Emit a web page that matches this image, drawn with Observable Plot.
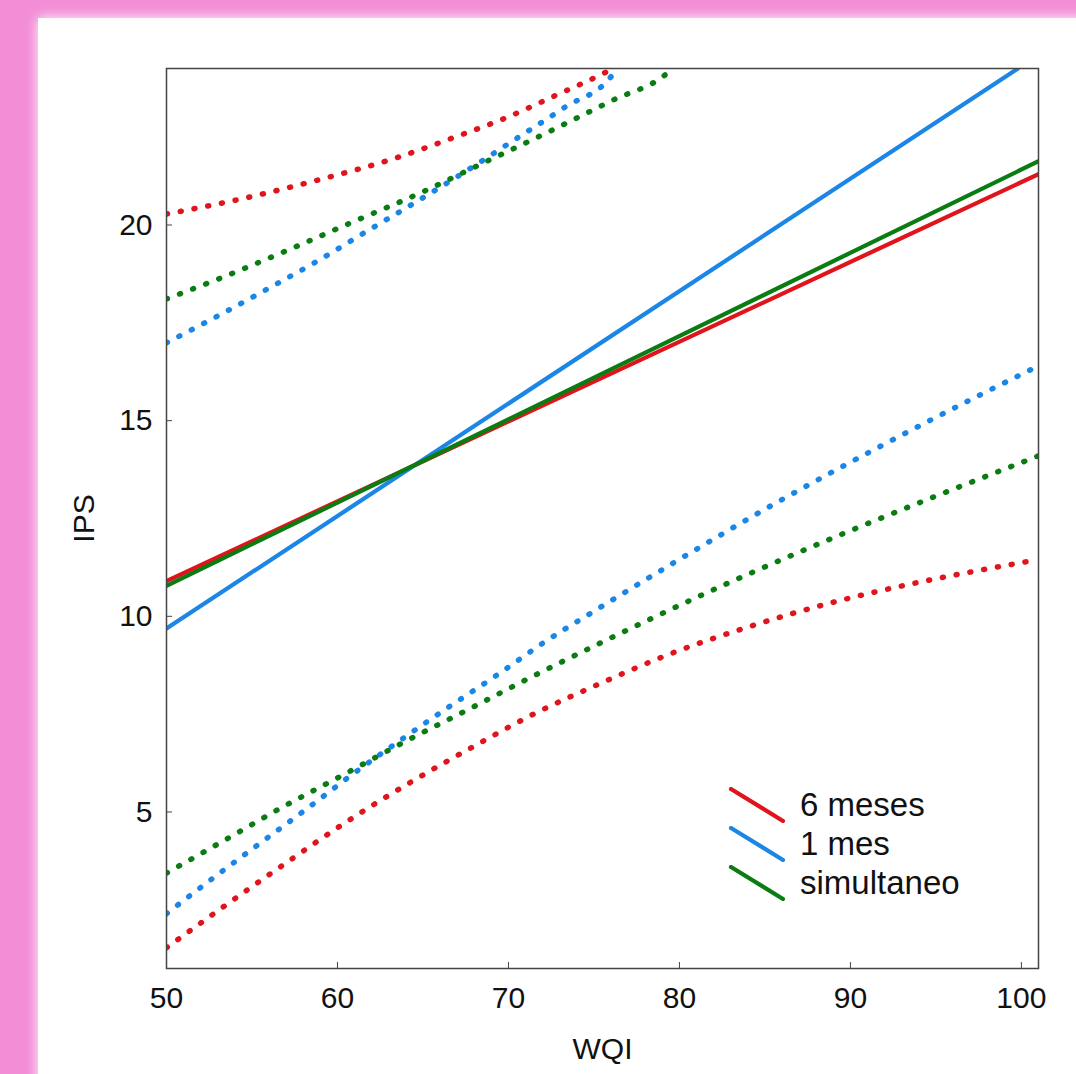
<!DOCTYPE html>
<html>
<head>
<meta charset="utf-8">
<script src="https://cdn.jsdelivr.net/npm/d3@7"></script>
<script src="https://cdn.jsdelivr.net/npm/@observablehq/plot@0.6"></script>
<style>
  html, body { margin: 0; padding: 0; }
  body { width: 1076px; height: 1074px; background: #f38dd6; position: relative; overflow: hidden; font-family: "Liberation Sans", Arial, sans-serif; }
  #panel { position: absolute; left: 38px; top: 18px; width: 1100px; height: 1100px; background: #fff; box-shadow: 0 0 12px 0 #fff; }
  #chart { position: absolute; left: 0; top: 0; }
  #legend { position: absolute; left: 728px; top: 785px; font-size: 33px; color: #111; }
  #legend .row { display: flex; align-items: center; height: 39px; }
  #legend svg { margin-right: 14px; }
</style>
</head>
<body>
<div id="panel"></div>
<div id="chart"></div>
<div id="legend"></div>
<script>
// ---- data ----
const seriesNames = ["6 meses", "1 mes", "simultaneo"];
const seriesColors = ["#e0141c", "#1b86e6", "#0a7c12"];

const xTicks = [50, 60, 70, 80, 90, 100];
const yTicks = [5, 10, 15, 20];

// fitted (solid) lines
const fit6X = [50, 101];
const fit6Y = [10.9, 21.3];
const fit1X = [50, 99.8];
const fit1Y = [9.69, 24.0];
const fitSimX = [50, 101];
const fitSimY = [10.78, 21.63];

// upper bands (dotted)
const up6X = [50, 54.3, 59.3, 63.4, 66.7, 69.8, 72.9, 75.8, 76.1];
const up6Y = [20.28, 20.66, 21.2, 21.71, 22.22, 22.73, 23.34, 23.93, 24.0];
const up1X = [50, 53.1, 56.0, 58.9, 61.75, 64.6, 67.6, 70.5, 73.3, 76.1, 76.25];
const up1Y = [16.99, 17.7, 18.39, 19.1, 19.85, 20.59, 21.4, 22.22, 23.01, 23.85, 24.0];
const upSimX = [50, 53.2, 57.0, 60.9, 64.85, 68.5, 72.3, 76.1, 79.2, 79.6];
const upSimY = [18.11, 18.65, 19.34, 20.08, 20.82, 21.58, 22.37, 23.19, 23.85, 24.0];

// lower bands (dotted)
const lo6X = [50, 53.5, 57.0, 60.5, 64.2, 67.9, 71.6, 75.4, 79.4, 84.1, 89.0, 94.0, 99.1, 101];
const lo6Y = [1.53, 2.63, 3.70, 4.74, 5.74, 6.66, 7.53, 8.29, 9.03, 9.74, 10.36, 10.87, 11.30, 11.45];
const lo1X = [50, 52.75, 55.5, 58.2, 60.9, 63.7, 66.5, 69.3, 72.1, 75.0, 79.9, 85.7, 91.6, 97.5, 101];
const lo1Y = [2.40, 3.32, 4.21, 5.08, 5.97, 6.84, 7.68, 8.49, 9.34, 10.13, 11.43, 12.91, 14.31, 15.64, 16.4];
const loSimX = [50, 53.0, 56.6, 60.3, 64.0, 67.7, 71.3, 75.1, 82.7, 88.9, 95.1, 101];
const loSimY = [3.44, 4.18, 5.08, 5.94, 6.81, 7.63, 8.44, 9.26, 10.82, 11.99, 13.09, 14.1];

// ---- build tables ----
const zip = (xs, ys, s) => xs.map((x, i) => ({x, y: ys[i], s}));
const fits = [
  ...zip(fit6X, fit6Y, "6 meses"),
  ...zip(fit1X, fit1Y, "1 mes"),
  ...zip(fitSimX, fitSimY, "simultaneo")
];
const bands = [
  ...zip(up6X, up6Y, "6 meses|u"), ...zip(lo6X, lo6Y, "6 meses|l"),
  ...zip(up1X, up1Y, "1 mes|u"), ...zip(lo1X, lo1Y, "1 mes|l"),
  ...zip(upSimX, upSimY, "simultaneo|u"), ...zip(loSimX, loSimY, "simultaneo|l")
].map(d => ({...d, series: d.s.split("|")[0]}));

const color = {domain: seriesNames, range: seriesColors};

const chart = Plot.plot({
  width: 1076,
  height: 1074,
  marginLeft: 166,
  marginRight: 38,
  marginTop: 68,
  marginBottom: 106,
  style: {background: "transparent", fontFamily: "'Liberation Sans', Arial, sans-serif", fontSize: "30px", color: "#111"},
  x: {domain: [50, 101]},
  y: {domain: [1, 24]},
  color,
  marks: [
    Plot.line(bands, {x: "x", y: "y", z: "s", stroke: d => d.series, strokeWidth: 5.5,
      strokeDasharray: "1 13", strokeLinecap: "round", curve: "monotone-x", clip: true}),
    Plot.line(fits, {x: "x", y: "y", z: "s", stroke: "s", strokeWidth: 4.2, clip: true}),
    Plot.axisX({ticks: xTicks, tickSize: -6, tickPadding: 24, stroke: "#444",
      label: "WQI", labelAnchor: "center", labelArrow: "none", labelOffset: 90, fontSize: 30}),
    Plot.axisY({ticks: yTicks, tickSize: -6, tickPadding: 20, stroke: "#444",
      label: "IPS", labelAnchor: "center", labelArrow: "none", labelOffset: 94, fontSize: 30}),
    Plot.frame({stroke: "#444", strokeWidth: 1.5})
  ]
});
document.getElementById("chart").appendChild(chart);

// legend
const legend = document.getElementById("legend");
seriesNames.forEach((name, i) => {
  const row = document.createElement("div");
  row.className = "row";
  const ns = "http://www.w3.org/2000/svg";
  const svg = document.createElementNS(ns, "svg");
  svg.setAttribute("width", 58);
  svg.setAttribute("height", 36);
  const ln = document.createElementNS(ns, "line");
  ln.setAttribute("x1", 3); ln.setAttribute("y1", 2);
  ln.setAttribute("x2", 55); ln.setAttribute("y2", 34);
  ln.setAttribute("stroke", seriesColors[i]);
  ln.setAttribute("stroke-width", 4.2);
  ln.setAttribute("stroke-linecap", "round");
  svg.appendChild(ln);
  const span = document.createElement("span");
  span.textContent = name;
  row.appendChild(svg);
  row.appendChild(span);
  legend.appendChild(row);
});
</script>
</body>
</html>
